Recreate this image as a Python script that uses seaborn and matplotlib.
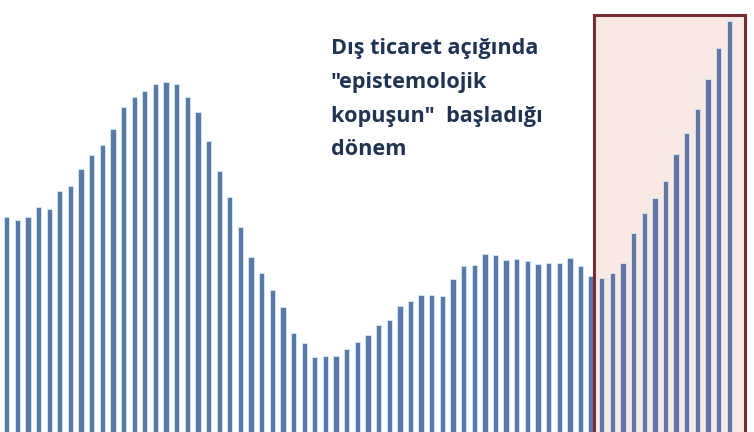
import matplotlib
matplotlib.use("Agg")
import matplotlib.pyplot as plt
import seaborn as sns
import pandas as pd
from matplotlib.patches import Rectangle

# ---- data (relative heights) ----
periods = list(range(1, 70))
values = [214.7, 212.0, 214.7, 225.3, 223.0, 241.3, 246.0, 263.0, 277.3, 287.3,
          303.0, 325.0, 334.7, 340.7, 348.0, 350.0, 348.0, 334.7, 320.0, 291.0,
          260.7, 235.3, 204.7, 175.5, 159.3, 142.0, 124.7, 98.7, 88.7, 75.3,
          76.3, 76.3, 82.7, 89.7, 97.0, 106.7, 111.7, 126.3, 131.0, 137.0,
          137.0, 136.0, 152.7, 166.3, 167.3, 178.3, 177.0, 172.2, 173.3, 171.0,
          167.7, 168.7, 168.7, 174.3, 166.3, 156.3, 154.3, 158.7, 168.7, 199.3,
          218.7, 234.3, 251.3, 277.7, 298.7, 323.0, 353.0, 383.7, 411.0]
highlight_start = 57  # first period inside the highlighted window
annotation = 'Dış ticaret açığında\n"epistemolojik\nkopuşun"  başladığı\ndönem'

df = pd.DataFrame({"period": [str(p) for p in periods], "value": values})

sns.set_theme(style="white")
plt.rcParams['font.family'] = ['Open Sans', 'DejaVu Sans']

fig = plt.figure(figsize=(7.54, 4.32), dpi=100)
ax = fig.add_axes([0, 0, 1, 1])

blue_out = "#4d77b3"
blue_in = "#5c6fae"
palette = {str(p): (blue_in if p >= highlight_start else blue_out) for p in periods}

sns.barplot(data=df, x="period", y="value", hue="period", palette=palette,
            legend=False, width=0.5, ax=ax, edgecolor="#cdeef7", linewidth=0.6,
            zorder=2)

ax.set_xlim(-0.63, 70.33)
ax.set_ylim(0, 432)

# highlighted window
x0 = highlight_start - 1 - 0.7
x1 = len(periods) + 0.45
ax.add_patch(Rectangle((x0, -20), x1 - x0, 437, facecolor="#fae8e4",
                       edgecolor="none", zorder=1))
ax.add_patch(Rectangle((x0, -20), x1 - x0, 437, facecolor="none",
                       edgecolor="#7a2d30", linewidth=2.2, zorder=3))

ax.text(0.439, 0.912, annotation, transform=ax.transAxes, ha="left", va="top",
        fontsize=15.6, fontweight="bold", color="#1f3352", linespacing=1.8,
        zorder=4)

ax.set_axis_off()
fig.savefig("out.png", dpi=100)
